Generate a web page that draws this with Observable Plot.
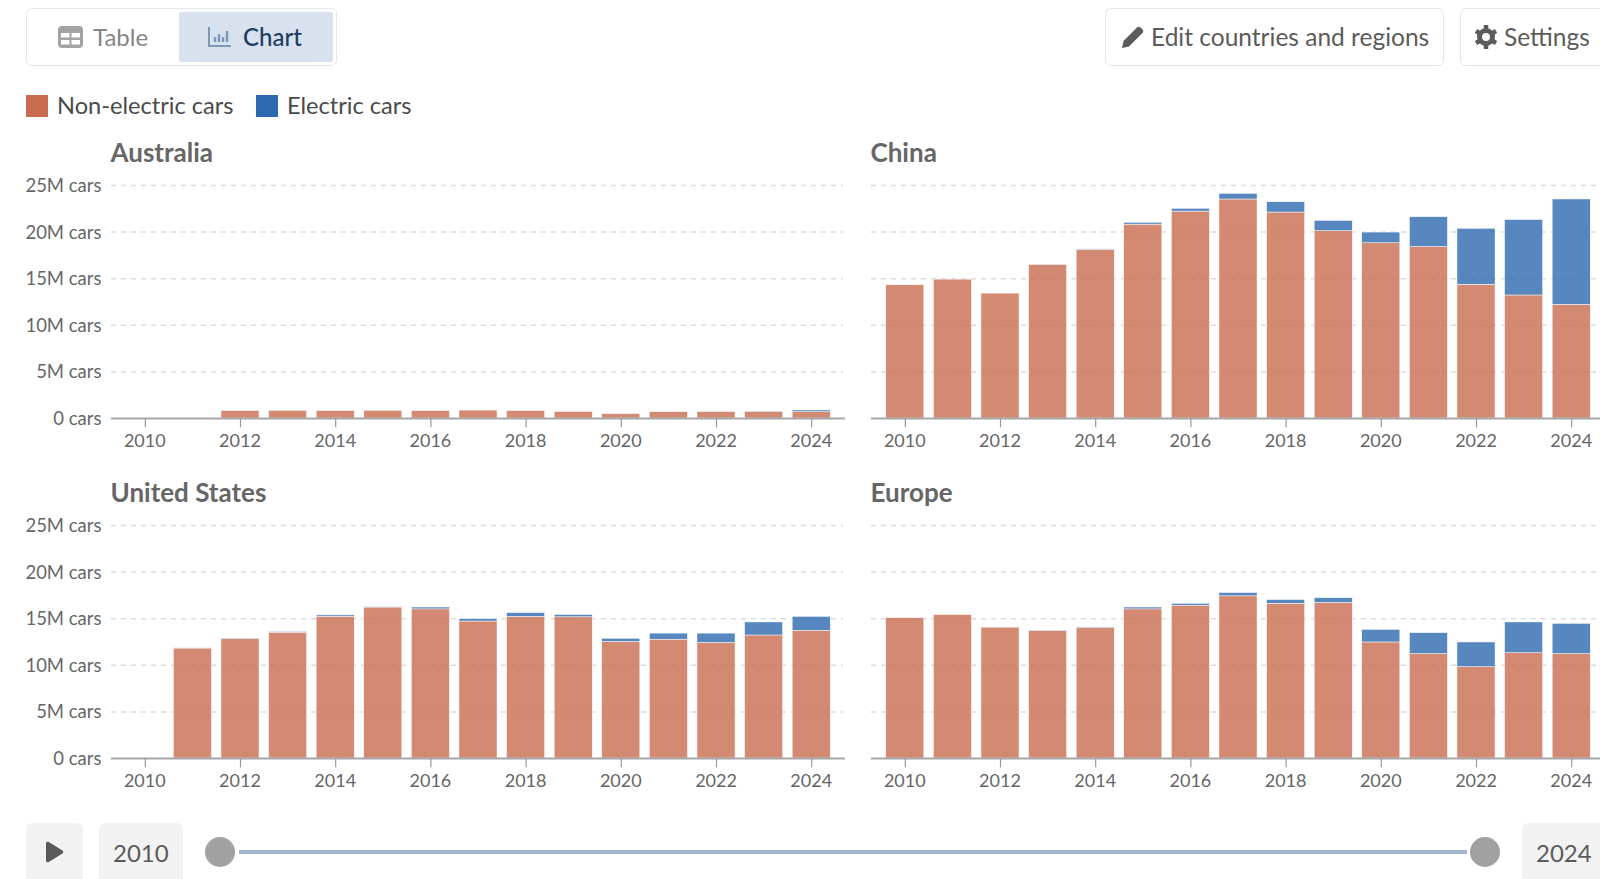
<!DOCTYPE html>
<html><head><meta charset="utf-8">
<script src="https://cdn.jsdelivr.net/npm/d3@7"></script>
<script src="https://cdn.jsdelivr.net/npm/@observablehq/plot@0.6"></script>
<style>
html,body{margin:0;padding:0;width:1600px;height:879px;overflow:hidden;background:#fff;font-family:Lato,sans-serif;color:#5b5b5b}
.a{position:absolute;box-sizing:border-box}
.btn{border:1.5px solid #e7e7e7;border-radius:6px;background:#fff}
.t{position:absolute;white-space:nowrap;line-height:1}
.box{background:#f2f2f2;border-radius:6px}
.panel{position:absolute}
.panel svg{display:block;max-width:none;overflow:visible}
</style></head><body>
<div id="root"></div>
<script>
const years = [2010,2011,2012,2013,2014,2015,2016,2017,2018,2019,2020,2021,2022,2023,2024];
const tickYears = [2010,2012,2014,2016,2018,2020,2022,2024];
const yTicks = [0,5,10,15,20,25];
const seriesNames = ["Non-electric cars","Electric cars"];
const seriesColors = ["#c96c50","#2c69af"];

const australiaNon = [null,null,0.8,0.82,0.8,0.82,0.8,0.85,0.8,0.7,0.5,0.68,0.68,0.68,0.68];
const australiaEv  = [null,null,0,0,0,0,0,0,0,0,0.01,0.02,0.03,0.05,0.18];
const chinaNon = [14.3,14.9,13.4,16.5,18.1,20.8,22.2,23.5,22.1,20.1,18.8,18.4,14.35,13.2,12.2];
const chinaEv  = [0,0,0,0.02,0.05,0.2,0.3,0.6,1.1,1.1,1.15,3.2,6.0,8.1,11.3];
const usNon = [null,11.8,12.8,13.5,15.2,16.2,16.0,14.7,15.2,15.15,12.5,12.75,12.4,13.2,13.7];
const usEv  = [null,0.02,0.05,0.08,0.15,0.05,0.2,0.25,0.4,0.25,0.35,0.65,1.0,1.4,1.5];
const europeNon = [15.05,15.4,14.05,13.7,14.0,16.0,16.4,17.4,16.6,16.7,12.45,11.2,9.8,11.3,11.2];
const europeEv  = [0,0,0.01,0.03,0.07,0.2,0.2,0.35,0.4,0.5,1.35,2.25,2.65,3.3,3.25];

const root = document.getElementById("root");
function html(s){ root.insertAdjacentHTML("beforeend", s); }

function rowsOf(non, ev){
  const rows = [];
  years.forEach((year,i)=>{
    if (non[i] != null) rows.push({year, series:seriesNames[0], value:non[i]});
    if (ev[i]) rows.push({year, series:seriesNames[1], value:ev[i]});
  });
  return rows;
}

function panel(title, non, ev, left, top, withY){
  const mL = withY ? 111 : 0;
  const plot = Plot.plot({
    width: mL + 734, height: 15 + 233 + 45,
    marginLeft: mL, marginRight: 0, marginTop: 15, marginBottom: 45,
    style: {fontFamily:"Lato, sans-serif", background:"transparent"},
    x: {type:"band", domain:years, paddingInner:0.2, paddingOuter:0.31, round:false},
    y: {domain:[0,25], axis:null},
    color: {domain:seriesNames, range:seriesColors},
    marks: [
      Plot.ruleY(yTicks.slice(1), {stroke:"#dcdcdc", strokeWidth:1.5, strokeDasharray:"5,5", insetRight:2}),
      Plot.barY(rowsOf(non,ev), {x:"year", y:"value", fill:"series", fillOpacity:0.8, stroke:"#fff", strokeWidth:0.5, order:seriesNames}),
      Plot.ruleY([0], {stroke:"#a6a6a6", strokeWidth:2}),
      Plot.axisX(tickYears, {tickSize:0, tickPadding:16, fill:"#666", fontSize:18, dx:-0.5, tickFormat:d=>String(d), label:null}),
      Plot.ruleX(tickYears, {x:d=>d, y1:0, y2:-1, stroke:"#999", strokeWidth:1.2}),
      ...(withY ? [Plot.axisY(yTicks, {tickSize:0, tickPadding:10, fill:"#666", fontSize:18.5, dy:0.5, tickFormat:d=>d===0?"0 cars":d+"M cars", label:null})] : [])
    ]
  });
  const d = document.createElement("div");
  d.className = "panel";
  d.style.left = left+"px"; d.style.top = top+"px";
  d.appendChild(plot);
  root.appendChild(d);
  html(`<div class="t" style="left:${left+mL-0.5}px;top:${top-31}px;font-size:26px;font-weight:700;color:#666">${title}</div>`);
}

/* header controls */
html(`<div class="a btn" style="left:26px;top:8px;width:311px;height:58px"></div>
<div class="a" style="left:179px;top:12px;width:154px;height:50px;background:#d8e2ef;border-radius:2px"></div>
<svg class="a" style="left:58px;top:26px" width="25" height="22" viewBox="0 0 25 22"><rect width="25" height="22" rx="4" fill="#a3a3a3"/><rect x="3" y="7" width="8.5" height="4.5" fill="#fff"/><rect x="13.5" y="7" width="8.5" height="4.5" fill="#fff"/><rect x="3" y="14" width="8.5" height="4.5" fill="#fff"/><rect x="13.5" y="14" width="8.5" height="4.5" fill="#fff"/></svg>
<div class="t" style="left:93px;top:25px;font-size:24px;color:#858585">Table</div>
<svg class="a" style="left:208px;top:26px" width="24" height="22" viewBox="0 0 24 22"><path d="M1 1V20H23" fill="none" stroke="#7d97b8" stroke-width="2"/><path d="M7 11v5M11 8v8M15 11v5M19 5v11" stroke="#7d97b8" stroke-width="2.4"/></svg>
<div class="t" style="left:243px;top:25px;font-size:24px;font-weight:500;color:#1d3d63">Chart</div>
<div class="a btn" style="left:1105px;top:8px;width:339px;height:58px"></div>
<svg class="a" style="left:1121px;top:25px" width="24" height="24" viewBox="0 0 24 24"><path d="M1 23l1.500-7L16 2.500c1-1 2.500-1 3.500 0l2 2c1 1 1 2.500 0 3.500L8 21.500z" fill="#5b5b5b"/></svg>
<div class="t" style="left:1151px;top:25px;font-size:24.5px;color:#5b5b5b">Edit countries and regions</div>
<div class="a btn" style="left:1460px;top:8px;width:160px;height:58px"></div>
<svg class="a" style="left:1475px;top:25px" width="22" height="24" viewBox="0 0 22 24"><circle cx="11" cy="12" r="6.500" fill="none" stroke="#5b5b5b" stroke-width="5"/><path d="M11 0v5M11 19v5M1 6l4 2.500M17 15.500l4 2.500M1 18l4-2.500M17 8.500L21 6" stroke="#5b5b5b" stroke-width="4.500"/></svg>
<div class="t" style="left:1504px;top:25px;font-size:24.5px;color:#5b5b5b">Settings</div>`);

/* legend */
html(`<div class="a" style="left:26px;top:95px;width:22px;height:22px;background:${seriesColors[0]}"></div>
<div class="t" style="left:57px;top:94px;font-size:23.6px;color:#4a4a4a">${seriesNames[0]}</div>
<div class="a" style="left:256px;top:95px;width:22px;height:22px;background:${seriesColors[1]}"></div>
<div class="t" style="left:287px;top:94px;font-size:23.6px;color:#4a4a4a">${seriesNames[1]}</div>`);

panel("Australia", australiaNon, australiaEv, 0, 170, true);
panel("China", chinaNon, chinaEv, 871, 170, false);
panel("United States", usNon, usEv, 0, 510, true);
panel("Europe", europeNon, europeEv, 871, 510, false);

/* timeline */
html(`<div class="a box" style="left:26px;top:823px;width:57px;height:70px"></div>
<svg class="a" style="left:45px;top:841px" width="19" height="22" viewBox="0 0 19 22"><path d="M1 2.500C1 1 2.500 .3 3.700 1L17.500 9.500c1 .7 1 2.300 0 3L3.700 21C2.500 21.700 1 21 1 19.500z" fill="#5b5b5b"/></svg>
<div class="a box" style="left:99px;top:823px;width:84px;height:70px"></div>
<div class="t" style="left:113px;top:841px;font-size:24px;color:#5b5b5b">${years[0]}</div>
<div class="a" style="left:239px;top:850px;width:1228px;height:4px;background:#a3b5cf"></div>
<div class="a" style="left:205px;top:837px;width:30px;height:30px;border-radius:50%;background:#a1a1a1"></div>
<div class="a" style="left:1470px;top:837px;width:30px;height:30px;border-radius:50%;background:#a1a1a1"></div>
<div class="a box" style="left:1522px;top:823px;width:100px;height:70px"></div>
<div class="t" style="left:1536px;top:841px;font-size:24px;color:#5b5b5b">${years[years.length-1]}</div>`);
</script>
</body></html>
